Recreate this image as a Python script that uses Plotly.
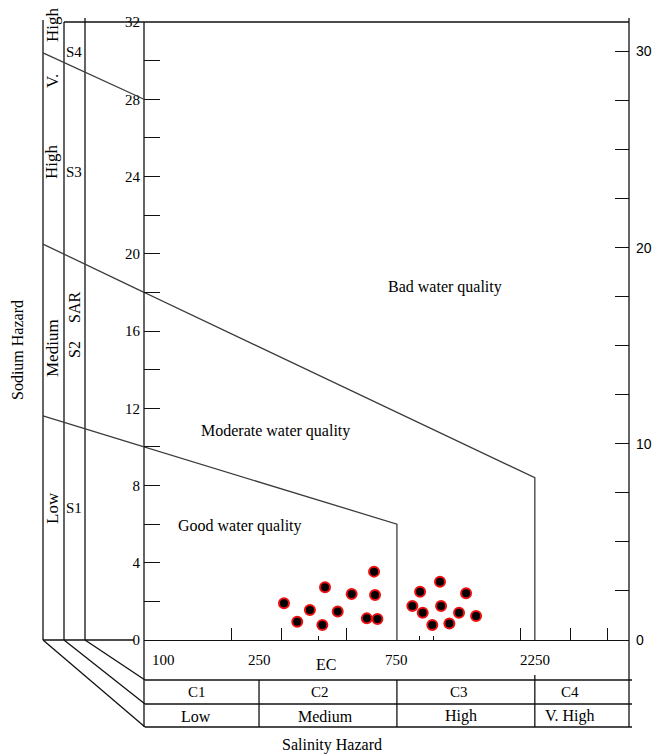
import math
import plotly.graph_objects as go

# ---------------- data ----------------
ec_samples = [305, 339, 375, 423, 414, 468, 523, 625, 630, 590, 642,
              848, 902, 921, 994, 1057, 1066, 1139, 1230, 1301, 1409]
sar_samples = [1.90, 0.95, 1.55, 2.73, 0.78, 1.47, 2.38, 3.54, 2.33, 1.12, 1.09,
               1.76, 2.50, 1.41, 0.78, 3.02, 1.76, 0.86, 1.41, 2.42, 1.24]

# classification boundaries (EC, SAR)
good_ec = [100, 750, 750]
good_sar = [10, 6, 0]
moderate_ec = [100, 2250, 2250]
moderate_sar = [18, 8.4, 0]

# continuation of the S-class boundaries across the left strip
strip_outer_sar = [11.6, 20.5, 30.4]
strip_inner_sar = [10, 18, 28]

ec_tick_labels = [100, 250, 750, 2250]
ec_major_ticks = [200, 300, 500, 2000, 3000, 4000]
ec_minor_ticks = [400, 900, 1000]
ec_class_bounds = [250, 750, 2250]
salinity_classes = ["C1", "C2", "C3", "C4"]
salinity_levels = ["Low", "Medium", "High", "V. High"]
sar_left_ticks = list(range(0, 33, 4))
sar_right_ticks = [0, 10, 20, 30]
quality_labels = ["Bad water quality", "Moderate water quality", "Good water quality"]

# ---------------- layout helpers ----------------
W, H = 658, 756
L, R, T, B = 144, 629, 22, 640


def PX(x):
    return (x - L) / (R - L)


def PY(y):
    return (B - y) / (B - T)


SERIF = "Liberation Serif"
LINE = dict(color="#111111", width=1.3)
BLINE = dict(color="#3c3c3c", width=1.3)

fig = go.Figure()

fig.add_trace(go.Scatter(x=good_ec, y=good_sar, mode="lines", line=BLINE,
                         hoverinfo="skip", showlegend=False))
fig.add_trace(go.Scatter(x=moderate_ec, y=moderate_sar, mode="lines", line=BLINE,
                         hoverinfo="skip", showlegend=False))
fig.add_trace(go.Scatter(x=ec_samples, y=sar_samples, mode="markers",
                         marker=dict(size=10, color="black",
                                     line=dict(color="#ee1111", width=2)),
                         cliponaxis=False, showlegend=False))
# empty trace so that the right-hand SAR scale is rendered
fig.add_trace(go.Scatter(x=[None], y=[None], yaxis="y2", mode="markers",
                         hoverinfo="skip", showlegend=False))

shapes = []


def pline(x0, y0, x1, y1, line=LINE):
    shapes.append(dict(type="line", xref="paper", yref="paper",
                       x0=PX(x0), y0=PY(y0), x1=PX(x1), y1=PY(y1), line=line))


# left strip verticals
pline(43, 20, 43, 640)
pline(64, 22, 64, 640)
pline(85, 18, 85, 640)
# top border
pline(64, 22, 629, 22)
# left / right axes extended through table
pline(144, 22, 144, 727)
pline(629, 18, 629, 727)
# bottom of left strip
pline(43, 640, 134, 640)
# diagonals to the table
pline(43, 640, 145, 727)
pline(64, 640, 145, 704)
pline(85, 640, 145, 680)
# table rows
for yy in (680, 704, 727):
    pline(145, yy, 632, yy)
# table dividers (data x)
for i, ec in enumerate(ec_class_bounds):
    top = 675 if i == 2 else 680
    shapes.append(dict(type="line", xref="x", yref="paper", x0=ec, x1=ec,
                       y0=PY(top), y1=PY(727), line=LINE))
# boundary continuation across the strip
for so, si in zip(strip_outer_sar, strip_inner_sar):
    shapes.append(dict(type="line", xref="paper", yref="y", x0=PX(43), y0=so,
                       x1=0, y1=si, line=BLINE))

ann = []


def text(x, y, s, size=16, angle=0, font=SERIF, xref="paper", yref="paper", **kw):
    d = dict(x=x, y=y, xref=xref, yref=yref, text=s, showarrow=False,
             textangle=angle, font=dict(family=font, size=size, color="black"),
             xanchor="center", yanchor="middle")
    d.update(kw)
    ann.append(d)


# EC tick labels (annotation x on a log axis is given in log10 units)
for v in ec_tick_labels:
    if v == ec_tick_labels[0]:
        text(math.log10(v), PY(660), str(v), size=15, xref="x", xanchor="left", xshift=6)
    else:
        text(math.log10(v), PY(660), str(v), size=15, xref="x")
text(PX(326), PY(664), "EC", size=16)

cls_x = [197, 320, 459, 570]
lvl_x = [196, 325, 461, 570]
for s, x in zip(salinity_classes, cls_x):
    text(PX(x), PY(692), s, size=15)
for s, x in zip(salinity_levels, lvl_x):
    text(PX(x), PY(716), s, size=16)
text(PX(332), PY(745), "Salinity Hazard", size=16)
text(PX(17), PY(350), "Sodium Hazard", size=16, angle=-90)

# left strip labels
text(PX(52), PY(25), "High", size=17, angle=-90)
text(PX(52), PY(81), "V.", size=17, angle=-90)
text(PX(52), PY(162), "High", size=17, angle=-90)
text(PX(52), PY(348), "Medium", size=17, angle=-90)
text(PX(52), PY(508), "Low", size=17, angle=-90)
text(PX(74), PY(52), "S4", size=15)
text(PX(74), PY(172), "S3", size=15)
text(PX(74), PY(308), "SAR", size=16, angle=-90)
text(PX(74), PY(350), "S2", size=16, angle=-90)
text(PX(74), PY(508), "S1", size=15)

# quality zone labels
for s, (x, y) in zip(quality_labels, [(445, 287), (275, 431), (240, 526)]):
    text(PX(x), PY(y), s, size=16)

fig.update_layout(
    width=W, height=H,
    margin=dict(l=L, r=W - R, t=T, b=H - B, pad=0, autoexpand=False),
    paper_bgcolor="white", plot_bgcolor="white",
    showlegend=False,
    shapes=shapes, annotations=ann,
    xaxis=dict(type="log", range=[2, 3.678], showgrid=False, zeroline=False,
               automargin=False,
               showline=True, linecolor="#111111", linewidth=1.3,
               tickmode="array", tickvals=ec_major_ticks, ticks="inside",
               ticklen=12, tickcolor="#111111", tickwidth=1.3,
               showticklabels=False,
               minor=dict(tickmode="array", tickvals=ec_minor_ticks, ticks="inside",
                          ticklen=4, tickcolor="#111111", tickwidth=1.3)),
    yaxis=dict(range=[0, 32], showgrid=False, zeroline=False, showline=False,
               automargin=False,
               tickmode="array", tickvals=sar_left_ticks, ticks="inside",
               ticklen=16, tickcolor="#111111", tickwidth=1.3,
               ticklabelstandoff=3,
               tickfont=dict(family=SERIF, size=15, color="black"),
               minor=dict(dtick=2, ticks="inside", ticklen=16,
                          tickcolor="#111111", tickwidth=1.3)),
    yaxis2=dict(range=[0, 31.5], overlaying="y", side="right", anchor="x",
                showgrid=False, zeroline=False, showline=False,
                automargin=False,
                tickmode="array", tickvals=sar_right_ticks, ticks="inside",
                ticklen=14, tickcolor="#111111", tickwidth=1.3,
                ticklabelstandoff=6,
                tickfont=dict(family="Liberation Sans", size=14, color="black"),
                minor=dict(dtick=2.5, ticks="inside", ticklen=14,
                           tickcolor="#111111", tickwidth=1.3)),
)

fig.write_html("out.html", config={"displayModeBar": False},
               post_script="document.body.style.margin='0';document.body.style.overflow='hidden';")
